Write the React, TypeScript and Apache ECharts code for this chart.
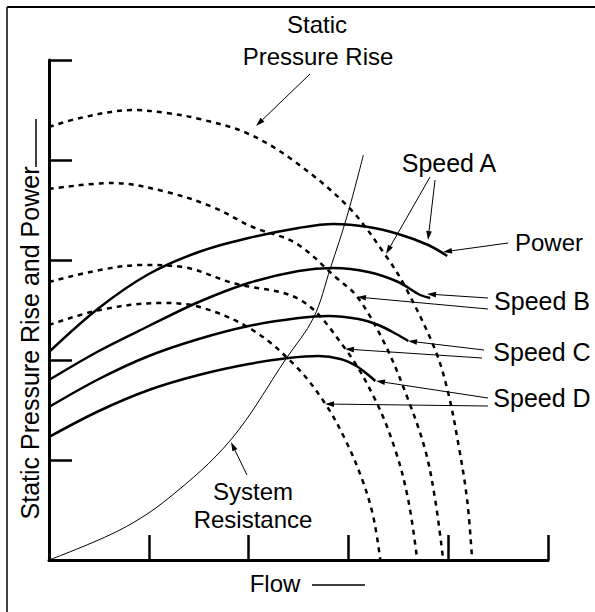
import React, { useEffect, useRef } from "react";
import * as echarts from "echarts";

// Axis ranges (no tick labels in the reference)
const axisMin = 0;
const axisMax = 5;
const axisInterval = 1;

// Static pressure rise curves (dashed), [flow, pressure]
const pressureA: [number, number][] = [
  [0, 4.33], [0.31, 4.42], [0.84, 4.5], [1.18, 4.47], [1.51, 4.41], [1.98, 4.27],
  [2.44, 4.0], [3.0, 3.53], [3.37, 3.05], [3.57, 2.73], [3.87, 2.1], [4.0, 1.67],
  [4.1, 1.17], [4.19, 0.6], [4.24, 0],
];
const pressureB: [number, number][] = [
  [0, 3.71], [0.64, 3.77], [1.18, 3.68], [1.64, 3.53], [2.04, 3.33], [2.47, 3.17],
  [2.87, 2.83], [3.09, 2.63], [3.37, 2.15], [3.6, 1.6], [3.77, 1.1], [3.87, 0.6], [3.95, 0],
];
const pressureC: [number, number][] = [
  [0, 2.78], [0.51, 2.9], [0.94, 2.95], [1.34, 2.93], [1.84, 2.77], [2.52, 2.6],
  [2.97, 2.11], [3.27, 1.6], [3.47, 1.1], [3.6, 0.6], [3.69, 0],
];
const pressureD: [number, number][] = [
  [0, 2.35], [0.51, 2.5], [1.11, 2.57], [1.51, 2.53], [2.04, 2.3], [2.48, 1.93],
  [2.77, 1.56], [2.97, 1.2], [3.14, 0.8], [3.25, 0.43], [3.32, 0],
];

// Power curves (solid), [flow, power]
const powerA: [number, number][] = [
  [0, 2.08], [0.5, 2.52], [1.0, 2.86], [1.5, 3.08], [2.0, 3.22], [2.5, 3.32],
  [2.85, 3.36], [3.2, 3.33], [3.5, 3.26], [3.8, 3.15], [3.99, 3.04],
];
const powerB: [number, number][] = [
  [0, 1.8], [0.5, 2.09], [1.0, 2.34], [1.5, 2.58], [2.0, 2.77], [2.5, 2.89],
  [2.85, 2.92], [3.2, 2.88], [3.5, 2.78], [3.72, 2.65], [3.82, 2.62],
];
const powerC: [number, number][] = [
  [0, 1.53], [0.5, 1.81], [1.0, 2.04], [1.5, 2.21], [2.0, 2.34], [2.5, 2.42],
  [2.8, 2.44], [3.1, 2.41], [3.3, 2.35], [3.48, 2.26], [3.6, 2.19],
];
const powerD: [number, number][] = [
  [0, 1.23], [0.5, 1.49], [1.0, 1.7], [1.5, 1.85], [2.0, 1.96], [2.4, 2.02],
  [2.7, 2.04], [2.92, 2.01], [3.08, 1.94], [3.2, 1.85], [3.27, 1.79],
];

// System resistance curve (thin solid)
const systemResistance: [number, number][] = [
  [0, 0], [0.71, 0.3], [1.2, 0.62], [1.82, 1.2], [2.38, 2.02], [2.65, 2.42],
  [2.82, 2.92], [2.99, 3.45], [3.15, 4.05],
];

const FONT = "'Liberation Sans', Arial, Helvetica, sans-serif";

export default function App() {
  const ref = useRef<HTMLDivElement>(null);

  useEffect(() => {
    document.body.style.margin = "0";
    const chart = echarts.init(ref.current!, null, { renderer: "svg" });

    const labels: [string, number, number, number][] = [
      ["Static", 317, 24, 24],
      ["Pressure Rise", 318, 56, 24],
      ["Speed A", 449, 163, 25],
      ["Power", 549, 242, 24],
      ["Speed B", 542, 301, 25],
      ["Speed C", 542, 352, 25],
      ["Speed D", 542, 398, 25],
      ["System", 253, 491, 24],
      ["Resistance", 253, 519, 24],
      ["Flow", 275, 583, 24],
    ];
    const arrows: [number, number, number, number][] = [
      [310, 74, 256, 126],
      [430, 177, 386, 254],
      [435, 180, 428, 240],
      [508, 243, 443, 252],
      [488, 298, 427, 294],
      [488, 309, 357, 297],
      [484, 350, 408, 341],
      [482, 358, 345, 349],
      [488, 398, 376, 381],
      [488, 406, 325, 404],
      [247, 475, 231, 442],
    ];

    const graphics: any[] = [];
    // partial frame (top and left edges)
    graphics.push({ type: "line", shape: { x1: 7, y1: 7, x2: 595, y2: 7 }, style: { stroke: "#000", lineWidth: 2 } });
    graphics.push({ type: "line", shape: { x1: 7, y1: 7, x2: 7, y2: 612 }, style: { stroke: "#000", lineWidth: 1.5 } });

    labels.forEach(([t, x, y, fs]) => {
      graphics.push({
        type: "text",
        x,
        y,
        style: { text: t, fill: "#000", fontSize: fs, fontFamily: FONT, align: "center", verticalAlign: "middle" },
      });
    });
    // dash after "Flow"
    graphics.push({ type: "line", shape: { x1: 312, y1: 585, x2: 365, y2: 585 }, style: { stroke: "#000", lineWidth: 1.5 } });
    // y-axis title
    graphics.push({
      type: "text",
      x: 30,
      y: 343,
      rotation: Math.PI / 2,
      style: { text: "Static Pressure Rise and Power", fill: "#000", fontSize: 25, fontFamily: FONT, align: "center", verticalAlign: "middle" },
    });
    graphics.push({ type: "line", shape: { x1: 36, y1: 167, x2: 36, y2: 119 }, style: { stroke: "#000", lineWidth: 1.5 } });

    arrows.forEach(([x1, y1, x2, y2]) => {
      const dx = x2 - x1;
      const dy = y2 - y1;
      const len = Math.sqrt(dx * dx + dy * dy);
      const ux = dx / len;
      const uy = dy / len;
      const bx = x2 - ux * 9;
      const by = y2 - uy * 9;
      const px = -uy * 2.8;
      const py = ux * 2.8;
      graphics.push({ type: "line", shape: { x1, y1, x2: bx, y2: by }, style: { stroke: "#000", lineWidth: 1 } });
      graphics.push({
        type: "polygon",
        shape: { points: [[x2, y2], [bx + px, by + py], [bx - px, by - py]] },
        style: { fill: "#000" },
      });
    });

    const dashed = (data: [number, number][]) => ({
      type: "line",
      data,
      showSymbol: false,
      smooth: 0.35,
      lineStyle: { color: "#000", width: 2.5, type: [5, 5] },
    });
    const solid = (data: [number, number][], width: number) => ({
      type: "line",
      data,
      showSymbol: false,
      smooth: 0.35,
      lineStyle: { color: "#000", width },
    });

    const axisCommon = {
      type: "value",
      min: axisMin,
      max: axisMax,
      interval: axisInterval,
      axisLine: { show: true, lineStyle: { color: "#000", width: 3 } },
      axisLabel: { show: false },
      splitLine: { show: false },
    };

    chart.setOption({
      animation: false,
      grid: { left: 49, top: 60, width: 499, height: 500 },
      xAxis: { ...axisCommon, axisTick: { show: true, inside: true, length: 25, lineStyle: { color: "#000", width: 2.5 } } },
      yAxis: { ...axisCommon, axisTick: { show: true, inside: true, length: 23, lineStyle: { color: "#000", width: 2.5 } } },
      series: [
        dashed(pressureA),
        dashed(pressureB),
        dashed(pressureC),
        dashed(pressureD),
        solid(powerA, 2.5),
        solid(powerB, 2.5),
        solid(powerC, 2.5),
        solid(powerD, 2.5),
        solid(systemResistance, 1),
      ],
      graphic: graphics,
    });

    return () => chart.dispose();
  }, []);

  return <div ref={ref} style={{ width: 595, height: 612 }} />;
}
